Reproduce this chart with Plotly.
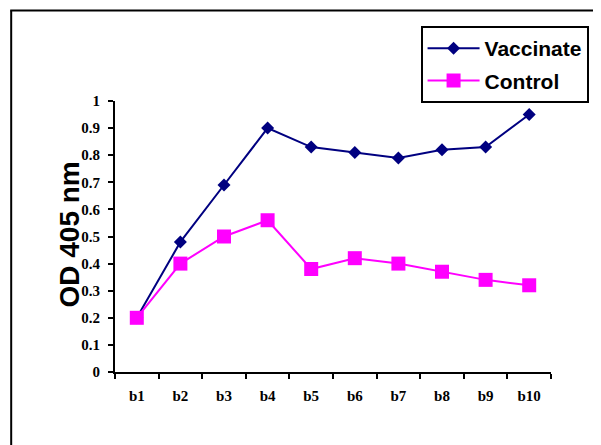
import plotly.graph_objects as go

categories = ["b1", "b2", "b3", "b4", "b5", "b6", "b7", "b8", "b9", "b10"]
vaccinate = [0.20, 0.48, 0.69, 0.90, 0.83, 0.81, 0.79, 0.82, 0.83, 0.95]
control = [0.20, 0.40, 0.50, 0.56, 0.38, 0.42, 0.40, 0.37, 0.34, 0.32]

fig = go.Figure()
fig.add_trace(go.Scatter(
    x=categories, y=vaccinate, name="Vaccinate", mode="lines+markers",
    line=dict(color="#000080", width=2),
    marker=dict(symbol="diamond", size=10, color="#000080"),
    legendgroup="v",
))
fig.add_trace(go.Scatter(
    x=categories, y=control, name="Control", mode="lines+markers",
    line=dict(color="#FF00FF", width=2),
    marker=dict(symbol="square", size=14, color="#FF00FF"),
    legendgroup="c",
))

OFF = 8  # page body margin
L, R, T, B = 115 - OFF, 556 - OFF, 101 - OFF, 372 - OFF
W, H = 601 - OFF, 445 - OFF

def px(x):
    return (x - OFF - L) / (R - L)

def py(y):
    return (B - (y - OFF)) / (B - T)

tickfont = dict(family="Liberation Serif", size=15, color="black", weight="bold")

fig.update_layout(
    width=W, height=H,
    margin=dict(l=L, r=W - R, t=T, b=H - B),
    paper_bgcolor="white", plot_bgcolor="white",
    showlegend=True,
    legend=dict(
        x=px(594), y=py(26), xanchor="right", yanchor="top",
        bordercolor="black", borderwidth=2, bgcolor="white",
        font=dict(family="Arial", size=21, color="black", weight="bold"),
        tracegroupgap=2, itemwidth=52,
    ),
    xaxis=dict(
        type="category", range=[-0.5, 9.5],
        showline=True, linecolor="black", linewidth=2,
        ticks="outside", ticklen=5, tickwidth=2, tickcolor="black",
        tickson="boundaries", ticklabelstandoff=9,
        showgrid=False, zeroline=False, tickfont=tickfont,
    ),
    yaxis=dict(
        range=[0, 1], dtick=0.1, tick0=0,
        showline=True, linecolor="black", linewidth=2,
        ticks="outside", ticklen=5, tickwidth=2, tickcolor="black",
        ticklabelstandoff=5,
        showgrid=False, zeroline=False, tickfont=tickfont,
    ),
    annotations=[dict(
        text="OD 405 nm", x=px(68), y=py(235), xref="paper", yref="paper",
        textangle=-90, showarrow=False, xanchor="center", yanchor="middle",
        font=dict(family="Arial", size=28, color="black", weight="bold"),
    )],
    shapes=[
        dict(type="line", xref="paper", yref="paper",
             x0=px(10), x1=px(10), y0=py(460), y1=py(10.5),
             line=dict(color="black", width=2)),
        dict(type="line", xref="paper", yref="paper",
             x0=px(9), x1=px(620), y0=py(10.5), y1=py(10.5),
             line=dict(color="black", width=2)),
    ],
)

fig.write_html("out.html")
